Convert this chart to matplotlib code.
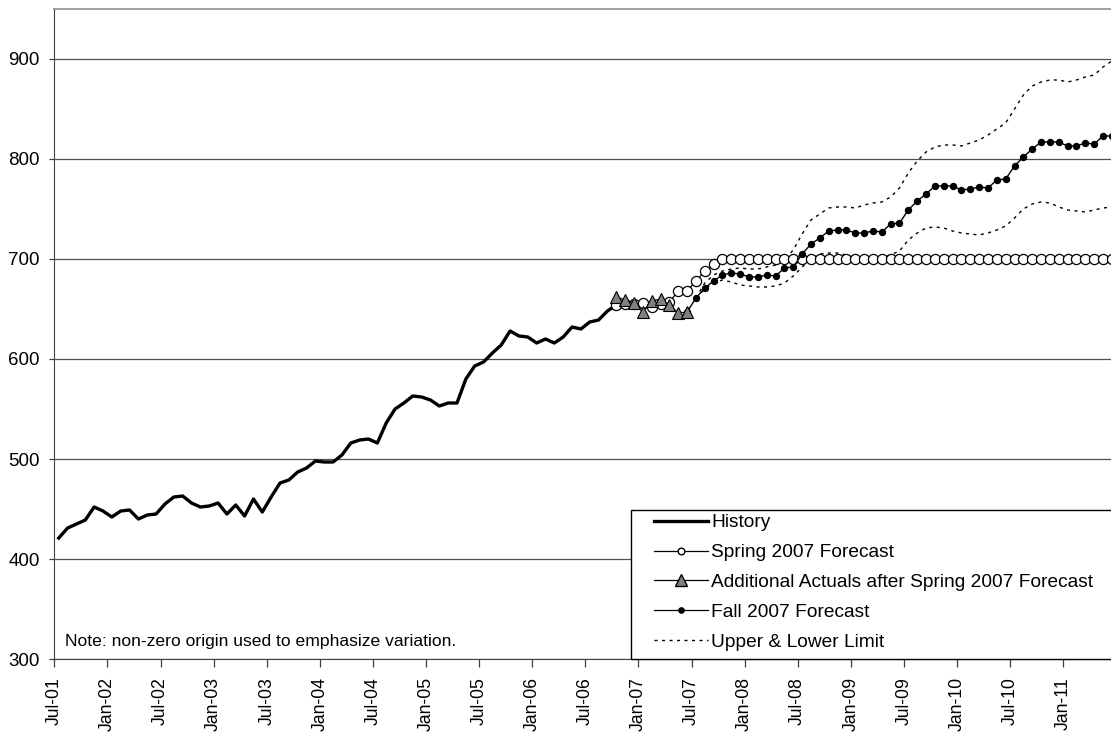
import matplotlib
matplotlib.use("Agg")
import numpy as np
import matplotlib.pyplot as plt
from matplotlib.lines import Line2D
from matplotlib.patches import Rectangle

plt.rcParams['font.family'] = ['Liberation Sans', 'DejaVu Sans']

# monthly series, month 0 = Jul-01
history = [421, 431, 435, 439, 452, 448, 442, 448, 449, 440,
           444, 445, 455, 462, 463, 456, 452, 453, 456, 445,
           454, 443, 460, 447, 462, 476, 479, 487, 491, 498,
           497, 497, 504, 516, 519, 520, 516, 536, 550, 556,
           563, 562, 559, 553, 556, 556, 580, 593, 597, 606,
           614, 628, 623, 622, 616, 620, 616, 622, 632, 630,
           637, 639, 648, 654]
history_start = 0

spring = [654, 655, 655, 656, 652, 655, 657, 668, 668, 678, 688, 695,
          700, 700, 700, 700, 700, 700, 700, 700, 700, 700, 700, 700,
          700, 700, 700, 700, 700, 700, 700, 700, 700, 700, 700, 700,
          700, 700, 700, 700, 700, 700, 700, 700, 700, 700, 700, 700,
          700, 700, 700, 700, 700, 700, 700, 700, 700]
spring_start = 63

actuals = [662, 659, 656, 647, 658, 660, 654, 646, 647]
actuals_start = 63

fall = [647, 661, 671, 678, 684, 686, 685, 682, 682, 684,
        683, 691, 692, 705, 715, 721, 728, 729, 729, 726,
        726, 728, 727, 735, 736, 749, 758, 765, 773, 773,
        773, 769, 770, 772, 771, 779, 780, 793, 802, 810,
        817, 817, 817, 813, 813, 816, 815, 823, 823]
fall_start = 71

upper = [661, 676, 684, 688, 690, 691, 690, 690, 692, 694,
         699, 709, 725, 739, 745, 751, 752, 752, 751, 754,
         756, 757, 762, 771, 786, 798, 807, 812, 814, 814,
         813, 816, 819, 824, 830, 836, 850, 864, 873, 877,
         879, 879, 877, 879, 882, 884, 892, 898]
lower = [661, 670, 676, 679, 677, 674, 673, 672, 672, 673,
         676, 683, 692, 700, 705, 706, 706, 704, 701, 700,
         701, 702, 704, 708, 719, 726, 731, 732, 731, 728,
         726, 725, 724, 726, 729, 733, 741, 750, 755, 757,
         756, 752, 749, 748, 747, 749, 751, 752]
limits_start = 72

tick_labels = ['Jul-01', 'Jan-02', 'Jul-02', 'Jan-03', 'Jul-03', 'Jan-04',
               'Jul-04', 'Jan-05', 'Jul-05', 'Jan-06', 'Jul-06', 'Jan-07',
               'Jul-07', 'Jan-08', 'Jul-08', 'Jan-09', 'Jul-09', 'Jan-10',
               'Jul-10', 'Jan-11']


def xs(start, values):
    # points sit in the middle of each month slot
    return np.arange(start, start + len(values)) + 0.5


fig = plt.figure(figsize=(11.11, 7.36), dpi=100, facecolor='white')
ax = fig.add_axes([0.0489, 0.1046, 0.9511, 0.8832])

dash = (0, (2.2, 3.2))
ax.plot(xs(limits_start, upper), upper, color='black', lw=1.0, linestyle=dash, zorder=2)
ax.plot(xs(limits_start, lower), lower, color='black', lw=1.0, linestyle=dash, zorder=2)
ax.plot(xs(history_start, history), history, color='black', lw=2.4, zorder=3)
ax.plot(xs(spring_start, spring), spring, color='black', lw=0.9,
        marker='o', markersize=7.3, markerfacecolor='white',
        markeredgecolor='black', markeredgewidth=0.9, zorder=4)
ax.plot(xs(fall_start, fall), fall, color='black', lw=1.0,
        marker='o', markersize=4.3, markerfacecolor='black',
        markeredgecolor='black', zorder=5)
ax.plot(xs(actuals_start, actuals), actuals, color='black', lw=0.9,
        marker='^', markersize=8.5, markerfacecolor='#808080',
        markeredgecolor='black', markeredgewidth=0.8, zorder=6)

ax.set_xlim(0, 119.4)
ax.set_ylim(300, 950)
ax.set_yticks([300, 400, 500, 600, 700, 800, 900])
ax.set_xticks(np.arange(0, 120, 6))
ax.set_xticklabels(tick_labels, rotation=90, fontsize=12.7)
ax.tick_params(axis='y', labelsize=13.5, length=3.6, width=0.9, color='#404040', pad=7)
ax.tick_params(axis='x', length=6, width=0.9, color='#404040', pad=7)
ax.yaxis.grid(True, color='#505050', lw=0.9)
ax.set_axisbelow(True)

ax.spines['right'].set_visible(False)
ax.spines['top'].set_color('#909090')
ax.spines['top'].set_linewidth(1.2)
ax.spines['left'].set_color('#404040')
ax.spines['bottom'].set_color('#404040')

ax.text(1.2, 318, 'Note: non-zero origin used to emphasize variation.',
        fontsize=12.6, va='center', ha='left')

# legend frame drawn separately so it can run off the right edge like the original
ax.add_patch(Rectangle((0.5458, 0.0), 0.5, 0.2292, transform=ax.transAxes,
                       facecolor='white', edgecolor='black', lw=1.0,
                       clip_on=False, zorder=8))

handles = [
    Line2D([], [], color='black', lw=2.4),
    Line2D([], [], color='black', lw=0.9, marker='o', markersize=4.8,
           markerfacecolor='white', markeredgecolor='black'),
    Line2D([], [], color='black', lw=0.9, marker='^', markersize=8,
           markerfacecolor='#808080', markeredgecolor='black'),
    Line2D([], [], color='black', lw=0.9, marker='o', markersize=3.8,
           markerfacecolor='black'),
    Line2D([], [], color='black', lw=1.0, linestyle=dash),
]
labels = ['History', 'Spring 2007 Forecast',
          'Additional Actuals after Spring 2007 Forecast',
          'Fall 2007 Forecast', 'Upper & Lower Limit']
leg = ax.legend(handles, labels, loc='upper left', bbox_to_anchor=(0.5675, 0.2231),
                borderaxespad=0, fontsize=13.8, frameon=False, handlelength=2.8,
                handletextpad=0.2, labelspacing=0.65, borderpad=0)
leg.set_zorder(9)

fig.savefig('out.png', dpi=100, facecolor='white')
